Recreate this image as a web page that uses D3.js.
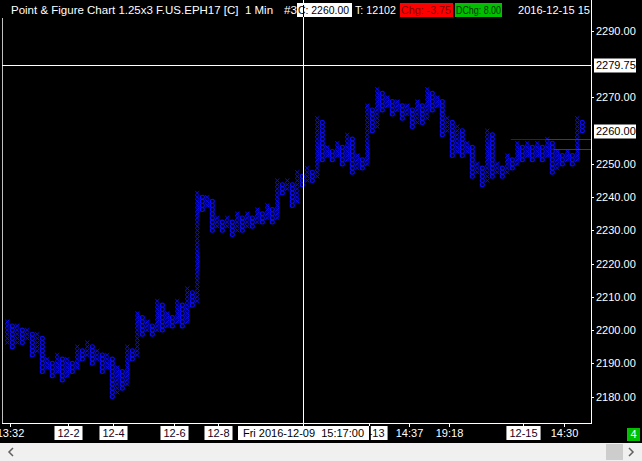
<!DOCTYPE html>
<html><head><meta charset="utf-8">
<script src="https://cdn.jsdelivr.net/npm/d3@7"></script>
<style>html,body{margin:0;padding:0;background:#000;overflow:hidden}svg{display:block}text{white-space:pre}</style>
</head><body>
<svg id="c" width="642" height="461"></svg>
<script>
// ---------- data ----------
const boxSize = 1.25;
const colTypes = "XOXOXOXOXOXOXOXOXOXOXOXOXOXOXOXOXOXOXOXOXOXOXOXOXOXOXOXOXOXOXOXOXOXOXOXOXOXOXOXOXOXOXOXOXOXOXOXOXOXOXOXOXOXOXOXOXOXOXO".split("");
const colHigh = [2202.5,2201.25,2201.25,2200,2200,2198.75,2198.75,2197.5,2191.25,2190,
  2192.5,2191.25,2191.25,2190,2195,2193.75,2196.25,2195,2193.75,2192.5,
  2192.5,2191.25,2188.75,2187.5,2195,2193.75,2205,2203.75,2202.5,2201.25,
  2208.75,2207.5,2205,2203.75,2208.75,2207.5,2212.5,2211.25,2241.25,2240,
  2240,2238.75,2233.75,2232.5,2233.75,2232.5,2235,2233.75,2235,2233.75,
  2236.25,2235,2237.5,2236.25,2245,2243.75,2245,2243.75,2247.5,2246.25,
  2248.75,2247.5,2263.75,2262.5,2255,2253.75,2256.25,2255,2258.75,2257.5,
  2252.5,2251.25,2267.5,2266.25,2272.5,2271.25,2270,2268.75,2268.75,2267.5,
  2267.5,2266.25,2268.75,2267.5,2272.5,2271.25,2270,2268.75,2263.75,2262.5,
  2261.25,2260,2256.25,2255,2250,2248.75,2260,2258.75,2250,2248.75,
  2252.5,2251.25,2256.25,2255,2256.25,2255,2256.25,2255,2257.5,2256.25,
  2253.75,2252.5,2253.75,2252.5,2263.75,2262.5];
const colLow = [2196.25,2195,2196.25,2196.25,2197.5,2192.5,2193.75,2187.5,2188.75,2186.25,
  2187.5,2185,2186.25,2187.5,2188.75,2191.25,2192.5,2190,2191.25,2187.5,
  2188.75,2180,2181.25,2182.5,2183.75,2191.25,2192.5,2198.75,2200,2198.75,
  2200,2200,2201.25,2201.25,2202.5,2201.25,2202.5,2207.5,2208.75,2236.25,
  2237.5,2230,2231.25,2230,2231.25,2228.75,2230,2230,2231.25,2231.25,
  2232.5,2232.5,2233.75,2232.5,2233.75,2241.25,2242.5,2237.5,2238.75,2243.75,
  2245,2245,2246.25,2251.25,2252.5,2251.25,2252.5,2250,2251.25,2247.5,
  2248.75,2248.75,2250,2260,2261.25,2266.25,2267.5,2265,2266.25,2263.75,
  2265,2261.25,2262.5,2262.5,2263.75,2266.25,2267.5,2258.75,2260,2252.5,
  2253.75,2252.5,2253.75,2246.25,2247.5,2243.75,2245,2246.25,2247.5,2246.25,
  2247.5,2248.75,2250,2251.25,2252.5,2251.25,2252.5,2251.25,2252.5,2247.5,
  2248.75,2250,2251.25,2250,2251.25,2260];
const priceTicks = [2290,2270,2250,2240,2230,2220,2210,2200,2190,2180];
const xTickCols = [0.55,12.1,21.2,33.3,42.2,72.3,80.3,88.3,103.2,111.4];
const xTickLabels = ["13:32","12-2","12-4","12-6","12-8","12-13","14:37","19:18","12-15","14:30"];
const xTickBoxed = [false,true,true,true,true,true,false,false,true,false];
const lastPrice = 2260.00;
const crossPrice = 2279.75;
const crossCol = 59.2;
const crossDate = "Fri 2016-12-09  15:17:00";
const redLevels = [2257.6, 2257.4, 2254.4];
const redStart = [100.7, 107.8, 109.3];
const redEnd = [113, 117.6, 117.6];
const redColors = ["#8a0000", "#d40000", "#d40000"];
const headerTitle = "Point & Figure Chart 1.25x3 F.US.EPH17 [C]  1 Min";
const headerItems = ["#3", "C: 2260.00", "T: 12102", "Chg: -3.75", "DChg: 8.00", "2016-12-15 15"];

// ---------- scales ----------
const svg = d3.select("#c");
const W = 642, H = 461;
const plotL = 2, plotR = 591, plotB = 423;
const x = d3.scaleLinear().domain([0, 115]).range([7.3, 582.3]);
const y = d3.scaleLinear().domain([2180, 2290]).range([396.5, 31]);
const boxH = Math.abs(y(boxSize) - y(0));
const font = "'Liberation Sans', Arial, sans-serif";
const fs = 11;

svg.append("rect").attr("width", W).attr("height", H).attr("fill", "#000");

svg.append("clipPath").attr("id", "pc").append("rect")
  .attr("x", plotL + 1).attr("y", 18).attr("width", plotR - plotL - 1).attr("height", plotB - 18);
const g = svg.append("g").attr("clip-path", "url(#pc)");

// P&F columns
const blue = "#0a0aff";
colTypes.forEach((t, i) => {
  const n = Math.round((colHigh[i] - colLow[i]) / boxSize);
  const cx = x(i);
  for (let k = 0; k <= n; k++) {
    const p = colLow[i] + k * boxSize;
    const cy = y(p);
    if (t === "X") {
      g.append("path")
        .attr("d", `M${cx - 2.1},${cy - 2}L${cx + 2.1},${cy + 2}M${cx + 2.1},${cy - 2}L${cx - 2.1},${cy + 2}`)
        .attr("stroke", blue).attr("stroke-width", 1).attr("fill", "none");
    } else {
      g.append("ellipse").attr("cx", cx).attr("cy", cy).attr("rx", 2).attr("ry", boxH / 2 - 0.15)
        .attr("stroke", blue).attr("stroke-width", 1.15).attr("fill", "none");
    }
  }
});

// red lines
redLevels.forEach((lv, i) => {
  g.append("line").attr("x1", x(redStart[i])).attr("x2", x(redEnd[i]))
    .attr("y1", Math.round(y(lv)) + 0.5).attr("y2", Math.round(y(lv)) + 0.5)
    .attr("stroke", redColors[i]).attr("stroke-width", 1);
});

// frame
svg.append("line").attr("x1", plotL + 0.5).attr("x2", plotL + 0.5).attr("y1", 18).attr("y2", plotB)
  .attr("stroke", "#c0c0c0");
svg.append("line").attr("x1", plotL).attr("x2", plotR).attr("y1", plotB + 0.5).attr("y2", plotB + 0.5)
  .attr("stroke", "#fff");
svg.append("line").attr("x1", plotR + 0.5).attr("x2", plotR + 0.5).attr("y1", 0).attr("y2", plotB + 1)
  .attr("stroke", "#fff");

// crosshair
const cxp = Math.round(x(crossCol)) + 0.5;
const cyp = Math.round(y(crossPrice)) + 0.5;
svg.append("line").attr("x1", plotL).attr("x2", plotR).attr("y1", cyp).attr("y2", cyp).attr("stroke", "#fff");
svg.append("line").attr("x1", cxp).attr("x2", cxp).attr("y1", 0).attr("y2", plotB + 3).attr("stroke", "#fff");

// right axis
const ya = svg.append("g");
priceTicks.forEach(p => {
  const yy = Math.round(y(p)) + 0.5;
  ya.append("line").attr("x1", plotR).attr("x2", plotR + 3).attr("y1", yy).attr("y2", yy).attr("stroke", "#fff");
  ya.append("text").attr("x", 596).attr("y", yy).attr("dy", "0.35em").attr("fill", "#fff")
    .attr("font-family", font).attr("font-size", fs).text(d3.format(".2f")(p));
});
function boxLabel(val, yy, color) {
  ya.append("rect").attr("x", 594).attr("y", yy - 7).attr("width", 42).attr("height", 14).attr("fill", "#fff");
  ya.append("text").attr("x", 596).attr("y", yy).attr("dy", "0.35em").attr("fill", color)
    .attr("font-family", font).attr("font-size", fs).text(d3.format(".2f")(val));
}
boxLabel(lastPrice, Math.round(y(lastPrice)) + 0.5, "#000");
boxLabel(crossPrice, cyp, "#000");

// bottom axis
const xa = svg.append("g");
xTickCols.forEach((c, i) => {
  const xx = Math.round(x(c)) + 0.5;
  xa.append("line").attr("x1", xx).attr("x2", xx).attr("y1", plotB).attr("y2", plotB + 4).attr("stroke", "#fff");
  const t = xa.append("text").attr("x", xx).attr("y", 433).attr("dy", "0.35em").attr("text-anchor", "middle")
    .attr("dx", xTickLabels[i] === "12-13" ? 1 : 0)
    .attr("font-family", font).attr("font-size", fs).attr("fill", xTickBoxed[i] ? "#200020" : "#fff")
    .text(xTickLabels[i]);
  if (xTickBoxed[i]) {
    const bb = t.node().getBBox();
    xa.insert("rect", "text").attr("x", bb.x - 3).attr("y", 426).attr("width", bb.width + 6).attr("height", 14).attr("fill", "#fff");
  }
});
// crosshair date label (covers part of the neighbouring label)
{
  xa.append("rect").attr("x", cxp + 65).attr("y", 426).attr("width", 2.3).attr("height", 14).attr("fill", "#000");
  xa.append("rect").attr("x", cxp - 65.5).attr("y", 426).attr("width", 131).attr("height", 14).attr("fill", "#fff");
  xa.append("text").attr("x", cxp).attr("y", 433).attr("dy", "0.35em").attr("text-anchor", "middle")
    .attr("font-family", font).attr("font-size", fs).attr("fill", "#000").text(crossDate);
}
// green box bottom right
svg.append("rect").attr("x", 627).attr("y", 428).attr("width", 13).attr("height", 13).attr("fill", "#00c000");
svg.append("text").attr("x", 633.5).attr("y", 434.5).attr("dy", "0.35em").attr("text-anchor", "middle")
  .attr("font-family", font).attr("font-size", fs).attr("fill", "#fff").text("4");

// scrollbar
svg.append("rect").attr("x", 0).attr("y", 443).attr("width", W).attr("height", 18).attr("fill", "#f0f0f0");
svg.append("rect").attr("x", 606).attr("y", 444).attr("width", 17).attr("height", 16).attr("fill", "#cdcdcd");
svg.append("path").attr("d", "M13,448L9,452L13,456").attr("stroke", "#606060").attr("stroke-width", 1.5).attr("fill", "none");
svg.append("path").attr("d", "M629,448L633,452L629,456").attr("stroke", "#606060").attr("stroke-width", 1.5).attr("fill", "none");

// header
const hdr = svg.append("g").attr("font-family", font).attr("font-size", fs + 0.5);
hdr.append("text").attr("x", 11).attr("y", 10).attr("dy", "0.35em").attr("fill", "#fff").text(headerTitle);
const hX = [283, 297, 354, 400, 455, 517];
const hW = [0, 55, 0, 53, 47, 0];
const hTL = [13, 51, 41, 50, 45, 72];
const hBg = [null, "#fff", null, "#ff0000", "#00c000", null];
const hFg = ["#fff", "#000", "#fff", "#800000", "#003000", "#fff"];
headerItems.forEach((s, i) => {
  if (hBg[i]) hdr.append("rect").attr("x", hX[i]).attr("y", 3).attr("width", hW[i]).attr("height", 14).attr("fill", hBg[i]);
  hdr.append("text").attr("x", hX[i] + 1).attr("y", 10).attr("dy", "0.35em").attr("fill", hFg[i])
    .attr("textLength", hTL[i]).attr("lengthAdjust", "spacingAndGlyphs").text(s);
});
svg.append("line").attr("x1", cxp).attr("x2", cxp).attr("y1", 5).attr("y2", 17).attr("stroke", "#000");
</script>
</body></html>
